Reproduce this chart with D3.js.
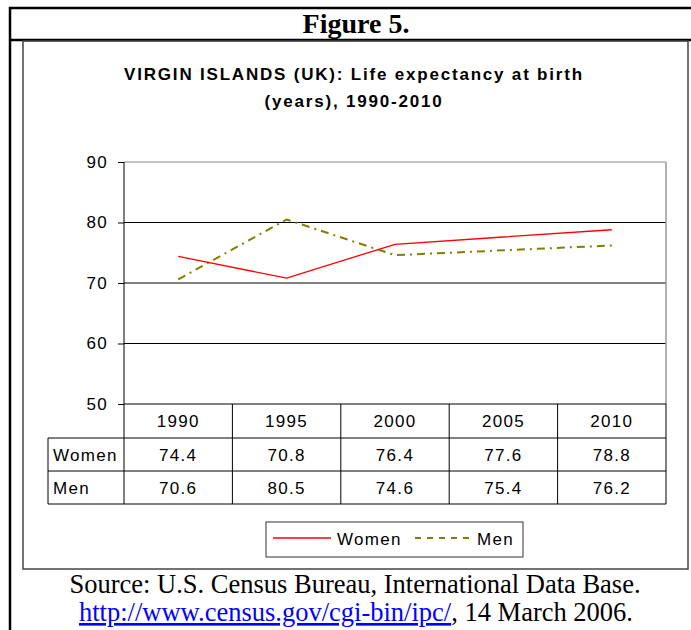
<!DOCTYPE html>
<html>
<head>
<meta charset="UTF-8">
<title>Figure 5</title>
<style>
  body { margin: 0; background: #ffffff; }
  svg text { font-family: "Liberation Sans", Arial, sans-serif; }
  .serif { font-family: "Liberation Serif", "Times New Roman", serif; }
</style>
</head>
<body>
<svg id="chart" width="691" height="630"></svg>
<script src="https://cdn.jsdelivr.net/npm/d3@7"></script>
<script>
// data
var years = ["1990", "1995", "2000", "2005", "2010"];
var women = [74.4, 70.8, 76.4, 77.6, 78.8];
var men = [70.6, 80.5, 74.6, 75.4, 76.2];
var yTicks = [50, 60, 70, 80, 90];
var seriesNames = ["Women", "Men"];

(function() {
var svg = d3.select("#chart");

// outer frame
svg.append("line").attr("x1", 9).attr("x2", 691).attr("y1", 8).attr("y2", 8)
    .attr("stroke", "#000").attr("stroke-width", 2.5);
svg.append("line").attr("x1", 10).attr("x2", 10).attr("y1", 7).attr("y2", 630)
    .attr("stroke", "#000").attr("stroke-width", 2.5);
svg.append("line").attr("x1", 9).attr("x2", 691).attr("y1", 40).attr("y2", 40)
    .attr("stroke", "#000").attr("stroke-width", 2.5);

svg.append("text").attr("class", "serif")
    .attr("x", 356).attr("y", 33)
    .attr("text-anchor", "middle")
    .attr("font-size", 28).attr("font-weight", "bold")
    .text("Figure 5.");

// chart box
svg.append("rect").attr("x", 23).attr("y", 41).attr("width", 665).attr("height", 528)
    .attr("fill", "none").attr("stroke", "#444").attr("stroke-width", 1.5);

// title
var title = svg.append("text").attr("text-anchor", "middle")
    .attr("font-size", 17).attr("font-weight", "bold").attr("letter-spacing", 1.8);
title.append("tspan").attr("x", 354).attr("y", 80).text("VIRGIN ISLANDS (UK): Life expectancy at birth");
title.append("tspan").attr("x", 354).attr("y", 107).text("(years), 1990-2010");

var pLeft = 124, pRight = 666, pTop = 162, pBottom = 404;
var x = d3.scaleBand().domain(years).range([pLeft, pRight]);
var y = d3.scaleLinear().domain([50, 90]).range([pBottom, pTop]);

// gridlines
svg.append("g").selectAll("line").data(yTicks.filter(function(d) { return d > 50; }))
    .enter().append("line")
    .attr("x1", pLeft).attr("x2", pRight)
    .attr("y1", function(d) { return y(d); }).attr("y2", function(d) { return y(d); })
    .attr("stroke", function(d) { return d === 90 ? "#888" : "#000"; })
    .attr("stroke-width", 1);

// plot area right border
svg.append("line").attr("x1", pRight).attr("x2", pRight).attr("y1", pTop).attr("y2", pBottom)
    .attr("stroke", "#999").attr("stroke-width", 1.5);

// y axis
var yAxis = svg.append("g").attr("transform", "translate(" + pLeft + ",0)")
    .call(d3.axisLeft(y).tickValues(yTicks).tickSize(6).tickPadding(10).tickFormat(d3.format("d")));
yAxis.select(".domain").remove();
yAxis.selectAll("line").attr("stroke", "#000");
yAxis.selectAll("text").attr("font-size", 17).attr("fill", "#000")
    .attr("font-family", "Liberation Sans, Arial, sans-serif").attr("letter-spacing", 1.3);

// data table under the plot
var rowY = [pBottom, 438, 471, 504];
var labelLeft = 48;
svg.append("line").attr("x1", pLeft).attr("x2", pLeft).attr("y1", pTop).attr("y2", rowY[3])
    .attr("stroke", "#000");
svg.append("line").attr("x1", pLeft).attr("x2", pRight).attr("y1", pBottom).attr("y2", pBottom)
    .attr("stroke", "#000");
[rowY[1], rowY[2], rowY[3]].forEach(function(ry) {
    svg.append("line").attr("x1", labelLeft).attr("x2", pRight).attr("y1", ry).attr("y2", ry)
        .attr("stroke", "#000");
});
svg.append("line").attr("x1", labelLeft).attr("x2", labelLeft).attr("y1", rowY[1]).attr("y2", rowY[3])
    .attr("stroke", "#000");
svg.append("g").selectAll("line").data(years.slice(1))
    .enter().append("line")
    .attr("x1", function(d) { return x(d); }).attr("x2", function(d) { return x(d); })
    .attr("y1", pBottom).attr("y2", rowY[3]).attr("stroke", "#000");
svg.append("line").attr("x1", pRight).attr("x2", pRight).attr("y1", pBottom).attr("y2", rowY[3])
    .attr("stroke", "#000");

var cell = svg.append("g").attr("font-size", 17).attr("letter-spacing", 1.3).attr("fill", "#000");
cell.selectAll(".yr").data(years).enter().append("text")
    .attr("x", function(d) { return x(d) + x.bandwidth() / 2; })
    .attr("y", 427).attr("text-anchor", "middle").text(function(d) { return d; });
[women, men].forEach(function(vals, i) {
    var ty = i === 0 ? 461 : 494;
    cell.append("text").attr("x", 53).attr("y", ty).text(seriesNames[i]);
    cell.selectAll(".v" + i).data(vals).enter().append("text")
        .attr("x", function(d, j) { return x(years[j]) + x.bandwidth() / 2; })
        .attr("y", ty).attr("text-anchor", "middle")
        .text(function(d) { return d3.format(".1f")(d); });
});

// lines
var line = d3.line()
    .x(function(d, i) { return x(years[i]) + x.bandwidth() / 2; })
    .y(function(d) { return y(d); });

svg.append("path").datum(men).attr("d", line)
    .attr("fill", "none").attr("stroke", "#808000").attr("stroke-width", 2)
    .attr("stroke-dasharray", "8,5,2,5");
svg.append("path").datum(women).attr("d", line)
    .attr("fill", "none").attr("stroke", "#ff0000").attr("stroke-width", 1.3);

// legend
svg.append("rect").attr("x", 266).attr("y", 522).attr("width", 257).attr("height", 35)
    .attr("fill", "#fff").attr("stroke", "#333").attr("stroke-width", 1);
svg.append("line").attr("x1", 273).attr("x2", 331).attr("y1", 538).attr("y2", 538)
    .attr("stroke", "#ff0000").attr("stroke-width", 1.3);
svg.append("text").attr("x", 337).attr("y", 545).attr("font-size", 17).attr("letter-spacing", 1.3)
    .text(seriesNames[0]);
svg.append("line").attr("x1", 415).attr("x2", 471).attr("y1", 538).attr("y2", 538)
    .attr("stroke", "#808000").attr("stroke-width", 2).attr("stroke-dasharray", "6,6");
svg.append("text").attr("x", 477).attr("y", 545).attr("font-size", 17).attr("letter-spacing", 1.3)
    .text(seriesNames[1]);

// source
svg.append("text").attr("class", "serif").attr("text-anchor", "middle").attr("font-size", 26.5)
    .attr("x", 355).attr("y", 593).text("Source: U.S. Census Bureau, International Data Base.");
var l2 = svg.append("text").attr("class", "serif").attr("text-anchor", "middle").attr("font-size", 26.5)
    .attr("x", 356).attr("y", 621);
l2.append("tspan").attr("fill", "#0000ff").attr("text-decoration", "underline")
    .text("http://www.census.gov/cgi-bin/ipc/");
l2.append("tspan").attr("fill", "#000").text(", 14 March 2006.");
})();
</script>
</body>
</html>
